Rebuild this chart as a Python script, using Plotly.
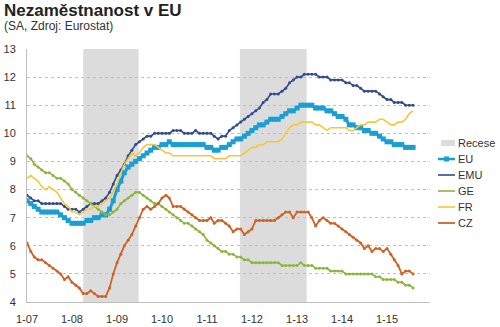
import pandas as pd
import plotly.graph_objects as go

# Monthly seasonally adjusted unemployment rates, Jan 2007 - Aug 2015 (%)
months = pd.date_range("2007-01-01", periods=104, freq="MS")

eu = [7.6, 7.5, 7.4, 7.3, 7.2, 7.2, 7.2, 7.2, 7.2, 7.1, 7.0, 6.9,
      6.8, 6.8, 6.8, 6.8, 6.9, 6.9, 7.0, 7.0, 7.1, 7.1, 7.3, 7.6,
      8.0, 8.3, 8.6, 8.8, 8.9, 9.0, 9.1, 9.2, 9.3, 9.4, 9.5, 9.5,
      9.6, 9.6, 9.7, 9.6, 9.6, 9.6, 9.6, 9.6, 9.6, 9.6, 9.6, 9.6,
      9.5, 9.5, 9.4, 9.4, 9.5, 9.5, 9.6, 9.7, 9.8, 9.8, 9.9, 10.0,
      10.1, 10.2, 10.3, 10.3, 10.4, 10.5, 10.5, 10.5, 10.6, 10.7, 10.8, 10.8,
      10.9, 11.0, 11.0, 11.0, 11.0, 10.9, 10.9, 10.9, 10.8, 10.8, 10.7, 10.6,
      10.6, 10.5, 10.3, 10.3, 10.2, 10.2, 10.1, 10.1, 10.0, 10.0, 9.9, 9.8,
      9.7, 9.7, 9.6, 9.6, 9.6, 9.5, 9.5, 9.5]

emu = [7.8, 7.7, 7.6, 7.6, 7.5, 7.5, 7.5, 7.5, 7.5, 7.5, 7.4, 7.3,
       7.3, 7.3, 7.2, 7.3, 7.4, 7.5, 7.5, 7.5, 7.6, 7.7, 7.9, 8.2,
       8.5, 8.7, 8.9, 9.2, 9.4, 9.6, 9.7, 9.8, 9.9, 9.9, 10.0, 10.0,
       10.0, 10.0, 10.0, 10.1, 10.1, 10.1, 10.0, 10.0, 10.0, 10.1, 10.0, 10.0,
       10.0, 10.0, 9.9, 9.8, 9.9, 9.9, 10.1, 10.2, 10.3, 10.4, 10.5, 10.6,
       10.7, 10.8, 10.9, 11.1, 11.2, 11.4, 11.4, 11.4, 11.5, 11.6, 11.8, 11.9,
       12.0, 12.0, 12.1, 12.1, 12.1, 12.1, 12.0, 12.0, 12.0, 11.9, 11.9, 11.9,
       11.9, 11.8, 11.8, 11.7, 11.7, 11.6, 11.5, 11.5, 11.5, 11.5, 11.4, 11.3,
       11.2, 11.2, 11.1, 11.1, 11.1, 11.0, 11.0, 11.0]

ge = [9.2, 9.1, 8.9, 8.8, 8.7, 8.6, 8.6, 8.5, 8.4, 8.4, 8.3, 8.2,
      8.0, 7.9, 7.8, 7.7, 7.6, 7.5, 7.4, 7.3, 7.2, 7.1, 7.1, 7.2,
      7.3, 7.5, 7.6, 7.7, 7.8, 7.9, 7.9, 7.8, 7.7, 7.6, 7.5, 7.5,
      7.4, 7.3, 7.2, 7.1, 7.0, 6.9, 6.8, 6.8, 6.7, 6.6, 6.5, 6.4,
      6.2, 6.1, 6.0, 5.9, 5.8, 5.8, 5.7, 5.7, 5.6, 5.6, 5.5, 5.5,
      5.4, 5.4, 5.4, 5.4, 5.4, 5.4, 5.4, 5.4, 5.3, 5.3, 5.3, 5.3,
      5.3, 5.4, 5.3, 5.3, 5.3, 5.2, 5.2, 5.2, 5.2, 5.1, 5.1, 5.1,
      5.1, 5.0, 5.0, 5.0, 5.0, 5.0, 5.0, 5.0, 5.0, 4.9, 4.9, 4.8,
      4.8, 4.8, 4.8, 4.7, 4.7, 4.6, 4.6, 4.5]

fr = [8.4, 8.5, 8.4, 8.3, 8.1, 8.0, 8.1, 8.0, 7.9, 7.7, 7.5, 7.4,
      7.2, 7.2, 7.1, 7.2, 7.3, 7.3, 7.4, 7.4, 7.5, 7.6, 7.7, 7.9,
      8.2, 8.6, 8.9, 9.1, 9.3, 9.2, 9.3, 9.5, 9.6, 9.6, 9.6, 9.5,
      9.4, 9.3, 9.3, 9.2, 9.2, 9.2, 9.2, 9.2, 9.2, 9.2, 9.2, 9.2,
      9.2, 9.2, 9.1, 9.1, 9.1, 9.1, 9.2, 9.2, 9.2, 9.2, 9.3, 9.4,
      9.5, 9.5, 9.6, 9.6, 9.7, 9.7, 9.7, 9.7, 9.8, 10.0, 10.2, 10.3,
      10.3, 10.4, 10.4, 10.4, 10.4, 10.3, 10.3, 10.2, 10.1, 10.2, 10.2, 10.2,
      10.2, 10.2, 10.1, 10.1, 10.2, 10.3, 10.3, 10.4, 10.4, 10.4, 10.5, 10.5,
      10.4, 10.3, 10.3, 10.4, 10.4, 10.5, 10.7, 10.8]

cz = [6.1, 5.8, 5.6, 5.5, 5.5, 5.4, 5.3, 5.2, 5.1, 5.0, 4.8, 4.9,
      4.7, 4.6, 4.5, 4.3, 4.3, 4.4, 4.3, 4.2, 4.2, 4.2, 4.5, 5.0,
      5.4, 5.7, 6.0, 6.2, 6.4, 6.7, 7.0, 7.3, 7.4, 7.3, 7.4, 7.5,
      7.7, 7.8, 7.7, 7.4, 7.4, 7.4, 7.3, 7.2, 7.1, 7.0, 6.9, 6.9,
      6.9, 7.0, 6.8, 6.9, 6.9, 6.8, 6.7, 6.5, 6.6, 6.6, 6.4, 6.5,
      6.6, 6.9, 6.9, 6.9, 6.9, 6.9, 6.9, 7.0, 7.1, 7.2, 7.2, 7.0,
      7.2, 7.2, 7.2, 7.2, 7.0, 6.7, 6.9, 7.0, 6.9, 6.8, 6.8, 6.7,
      6.6, 6.5, 6.4, 6.3, 6.2, 6.1, 5.9, 6.0, 5.8, 5.9, 5.9, 5.8,
      5.9, 5.7, 5.5, 5.3, 5.0, 5.1, 5.1, 5.0]

# Euro-area recessions (start, end)
recessions = [("2008-04-01", "2009-06-25"), ("2011-09-25", "2013-03-20")]

year_ticks = pd.date_range("2007-01-01", "2015-01-01", freq="YS")
tick_labels = [f"{d.month}-{d:%y}" for d in year_ticks]

series = [
    ("EU", eu, "#1A9FD5", 3, dict(size=5, symbol="square")),
    ("EMU", emu, "#2F4C8C", 1.6, dict(size=3, symbol="circle")),
    ("GE", ge, "#8DB53C", 1.6, dict(size=3, symbol="circle")),
    ("FR", fr, "#F5C73D", 1.6, None),
    ("CZ", cz, "#CC6328", 1.8, dict(size=3, symbol="circle")),
]

# figure geometry (px) used for the hand-made legend on the right
W, H = 500, 327
L, R, T, B = 27, 70, 49, 25
pw, ph = W - L - R, H - T - B


def px_x(x):
    return (x - L) / pw


def px_y(y):
    return (H - B - y) / ph


fig = go.Figure()

shapes = []
for start, end in recessions:
    shapes.append(dict(
        type="rect", xref="x", yref="paper", x0=start, x1=end, y0=0, y1=1,
        fillcolor="#DCDCDC", line=dict(width=0), layer="below",
    ))

for name, vals, color, width, marker in series:
    fig.add_trace(go.Scatter(
        x=months, y=vals, name=name, showlegend=False,
        mode="lines+markers" if marker else "lines",
        line=dict(color=color, width=width),
        marker=dict(color=color, **marker) if marker else None,
    ))

# legend: Recese box followed by one row per series
legend_top, legend_step = 143, 16
sym_x0, sym_x1, text_x = 438, 455, 456
annotations = []
shapes.append(dict(
    type="rect", xref="paper", yref="paper",
    x0=px_x(sym_x0 + 3), x1=px_x(sym_x1), y0=px_y(legend_top + 3), y1=px_y(legend_top - 3),
    fillcolor="#DCDCDC", line=dict(width=0),
))
annotations.append(dict(
    text="Recese", xref="paper", yref="paper", x=px_x(text_x), y=px_y(legend_top),
    xanchor="left", yanchor="middle", showarrow=False,
    font=dict(size=11, color="#333333"),
))
for i, (name, vals, color, width, marker) in enumerate(series, start=1):
    yy = legend_top + i * legend_step
    shapes.append(dict(
        type="line", xref="paper", yref="paper",
        x0=px_x(sym_x0), x1=px_x(sym_x1), y0=px_y(yy), y1=px_y(yy),
        line=dict(color=color, width=min(width, 2.5)),
    ))
    if name == "EU":
        cx = (sym_x0 + sym_x1) / 2
        shapes.append(dict(
            type="rect", xref="paper", yref="paper",
            x0=px_x(cx - 2.5), x1=px_x(cx + 2.5), y0=px_y(yy + 2.5), y1=px_y(yy - 2.5),
            fillcolor=color, line=dict(width=0),
        ))
    annotations.append(dict(
        text=name, xref="paper", yref="paper", x=px_x(text_x), y=px_y(yy),
        xanchor="left", yanchor="middle", showarrow=False,
        font=dict(size=11, color="#333333"),
    ))

# title and subtitle
annotations += [
    dict(text="<b>Nezaměstnanost v EU</b>", xref="paper", yref="paper",
         x=px_x(2), y=px_y(11), xanchor="left", yanchor="middle",
         showarrow=False, font=dict(size=17, color="#222222")),
    dict(text="(SA, Zdroj: Eurostat)", xref="paper", yref="paper",
         x=px_x(2), y=px_y(25.5), xanchor="left", yanchor="middle",
         showarrow=False, font=dict(size=12, color="#333333")),
]

font_family = "Liberation Sans, Arial, sans-serif"

fig.update_layout(
    width=W, height=H,
    margin=dict(l=L, r=R, t=T, b=B, autoexpand=False),
    paper_bgcolor="white", plot_bgcolor="white",
    font=dict(family=font_family, size=11, color="#333333"),
    shapes=shapes, annotations=annotations,
    showlegend=False,
)

fig.update_xaxes(
    type="date", range=["2007-01-01", "2015-12-16"],
    tickvals=year_ticks, ticktext=tick_labels,
    showgrid=False, showline=True, linecolor="#BFBFBF", linewidth=1,
    ticks="", ticklabelstandoff=7, zeroline=False, automargin=False,
)
fig.update_yaxes(
    range=[4, 13], dtick=1, tick0=4,
    showgrid=True, gridcolor="#BFBFBF", griddash="dot", gridwidth=1,
    showline=True, linecolor="#BFBFBF", linewidth=1,
    ticks="", ticklabelstandoff=8, zeroline=False, automargin=False,
)

fig.write_html("out.html")
